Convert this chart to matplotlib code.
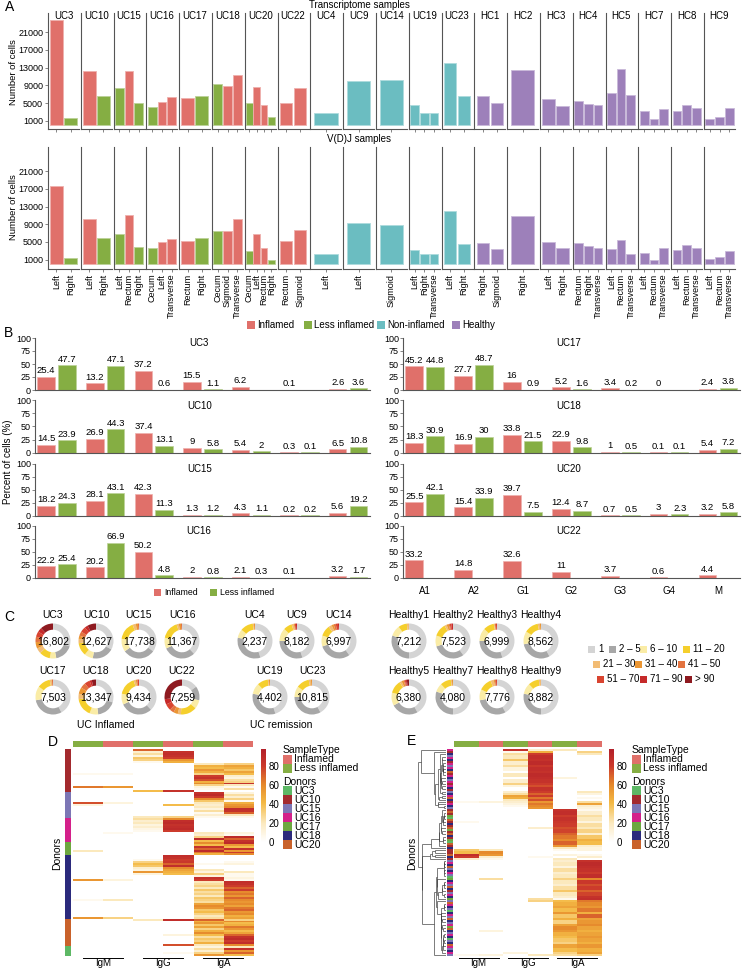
import numpy as np
import matplotlib
matplotlib.use('Agg')
import matplotlib.pyplot as plt
from matplotlib.colors import LinearSegmentedColormap, to_rgb
from matplotlib.patches import Rectangle
from matplotlib.collections import LineCollection

plt.rcParams['font.family'] = ['Liberation Sans', 'DejaVu Sans']

nan = np.nan

# ---------------- data: panel A ----------------
a_samples = ['UC3', 'UC10', 'UC15', 'UC16', 'UC17', 'UC18', 'UC20', 'UC22', 'UC4', 'UC9', 'UC14',
             'UC19', 'UC23', 'HC1', 'HC2', 'HC3', 'HC4', 'HC5', 'HC7', 'HC8', 'HC9']
a_sites = [['Left', 'Right'], ['Left', 'Right'], ['Left', 'Rectum', 'Right'],
           ['Cecum', 'Left', 'Transverse'], ['Rectum', 'Right'], ['Cecum', 'Sigmoid', 'Transverse'],
           ['Cecum', 'Left', 'Rectum', 'Right'], ['Rectum', 'Sigmoid'], ['Left'], ['Left'], ['Sigmoid'],
           ['Left', 'Right', 'Transverse'], ['Left', 'Right'], ['Right', 'Sigmoid'], ['Right'],
           ['Left', 'Right'], ['Rectum', 'Right', 'Transverse'], ['Left', 'Rectum', 'Transverse'],
           ['Left', 'Rectum', 'Transverse'], ['Left', 'Rectum', 'Transverse'], ['Left', 'Rectum', 'Transverse']]
# I = inflamed, L = less inflamed, N = non-inflamed, H = healthy
a_status = ['IL', 'IL', 'LIL', 'LII', 'IL', 'LII', 'LIIL', 'II', 'N', 'N', 'N', 'NNN', 'NN',
            'HH', 'H', 'HH', 'HHH', 'HHH', 'HHH', 'HHH', 'HHH']
a_rna = [[23800, 1650], [12200, 6650], [8450, 12250, 5000], [4100, 5200, 6300], [6050, 6600],
         [9300, 8850, 11300], [5000, 8550, 4600, 1900], [5000, 8300], [2650], [10050], [10100],
         [4550, 2650, 2800], [14100, 6500], [6500, 4900], [12500], [5900, 4400], [5500, 4700, 4500],
         [7200, 12700, 6800], [3250, 1300, 3700], [3250, 4550, 3850], [1380, 1750, 3950]]
a_vdj = [[17700, 1380], [10100, 5900], [6800, 11000, 3800], [3600, 5000, 5600], [5300, 5900],
         [7400, 7550, 10100], [3000, 6900, 3600, 1000], [5200, 7800], [2350], [9200], [8800],
         [3100, 2200, 2350], [11900, 4600], [4750, 3500], [10900], [5000, 3550], [4750, 4100, 3600],
         [3500, 5400, 2300], [2500, 850, 3700], [3200, 4300, 3550], [1200, 1600, 3000]]
a_yticks = [1000, 5000, 9000, 13000, 17000, 21000]

# ---------------- data: panel B ----------------
b_isotypes = ['A1', 'A2', 'G1', 'G2', 'G3', 'G4', 'M']
b_left = ['UC3', 'UC10', 'UC15', 'UC16']
b_right = ['UC17', 'UC18', 'UC20', 'UC22']
b_infl = {'UC3': [25.4, 13.2, 37.2, 15.5, 6.2, 0.1, 2.6],
          'UC10': [14.5, 26.9, 37.4, 9, 5.4, 0.3, 6.5],
          'UC15': [18.2, 28.1, 42.3, 1.3, 4.3, 0.2, 5.6],
          'UC16': [22.2, 20.2, 50.2, 2, 2.1, 0.1, 3.2],
          'UC17': [45.2, 27.7, 16, 5.2, 3.4, 0, 2.4],
          'UC18': [18.3, 16.9, 33.8, 22.9, 1, 0.1, 5.4],
          'UC20': [25.5, 15.4, 39.7, 12.4, 0.7, 3, 3.2],
          'UC22': [33.2, 14.8, 32.6, 11, 3.7, 0.6, 4.4]}
b_less = {'UC3': [47.7, 47.1, 0.6, 1.1, nan, nan, 3.6],
          'UC10': [23.9, 44.3, 13.1, 5.8, 2, 0.1, 10.8],
          'UC15': [24.3, 43.1, 11.3, 1.2, 1.1, 0.2, 19.2],
          'UC16': [25.4, 66.9, 4.8, 0.8, 0.3, nan, 1.7],
          'UC17': [44.8, 48.7, 0.9, 1.6, 0.2, nan, 3.8],
          'UC18': [30.9, 30, 21.5, 9.8, 0.5, 0.1, 7.2],
          'UC20': [42.1, 33.9, 7.5, 8.7, 0.5, 2.3, 5.8],
          'UC22': [nan, nan, nan, nan, nan, nan, nan]}

# ---------------- data: panel C ----------------
c_bins = ['1', '2 – 5', '6 – 10', '11 – 20', '21 – 30', '31 – 40', '41 – 50', '51 – 70', '71 – 90', '> 90']
c_names = ['UC3', 'UC10', 'UC15', 'UC16', 'UC17', 'UC18', 'UC20', 'UC22',
           'UC4', 'UC9', 'UC14', 'UC19', 'UC23',
           'Healthy1', 'Healthy2', 'Healthy3', 'Healthy4', 'Healthy5', 'Healthy7', 'Healthy8', 'Healthy9']
c_totals = [16802, 12627, 17738, 11367, 7503, 13347, 9434, 7259,
            2237, 8182, 6997, 4402, 10815,
            7212, 7523, 6999, 8562, 6380, 4080, 7776, 3882]
c_fracs = [[0.30, 0.17, 0.06, 0.10, 0.05, 0.06, 0.05, 0.05, 0.04, 0.12],
           [0.33, 0.20, 0.08, 0.12, 0.04, 0.03, 0.04, 0.05, 0.03, 0.08],
           [0.35, 0.30, 0.12, 0.17, 0.03, 0.02, 0.01, 0, 0, 0],
           [0.38, 0.30, 0.10, 0.17, 0.02, 0.02, 0.01, 0, 0, 0],
           [0.42, 0.30, 0.13, 0.12, 0.02, 0, 0.01, 0, 0, 0],
           [0.30, 0.18, 0.08, 0.17, 0.05, 0.06, 0.05, 0.05, 0.02, 0.04],
           [0.38, 0.30, 0.10, 0.17, 0.02, 0.015, 0, 0.015, 0, 0],
           [0.15, 0.13, 0.08, 0.15, 0.03, 0.04, 0.04, 0.06, 0.05, 0.27],
           [0.45, 0.33, 0.08, 0.12, 0.01, 0.01, 0, 0, 0, 0],
           [0.45, 0.30, 0.12, 0.08, 0.02, 0.01, 0, 0.01, 0.01, 0],
           [0.40, 0.30, 0.10, 0.10, 0.03, 0.02, 0.02, 0.02, 0.01, 0],
           [0.45, 0.33, 0.10, 0.10, 0.01, 0.01, 0, 0, 0, 0],
           [0.42, 0.33, 0.10, 0.12, 0.02, 0.01, 0, 0, 0, 0],
           [0.50, 0.30, 0.10, 0.08, 0.02, 0, 0, 0, 0, 0],
           [0.40, 0.30, 0.10, 0.12, 0.02, 0.02, 0.01, 0.015, 0.015, 0],
           [0.45, 0.30, 0.12, 0.10, 0.01, 0, 0.01, 0.01, 0, 0],
           [0.42, 0.30, 0.12, 0.13, 0.02, 0.01, 0, 0, 0, 0],
           [0.42, 0.25, 0.12, 0.12, 0.02, 0.02, 0.01, 0.01, 0.01, 0.02],
           [0.50, 0.30, 0.08, 0.10, 0.01, 0.01, 0, 0, 0, 0],
           [0.42, 0.30, 0.10, 0.12, 0.03, 0.01, 0.01, 0.01, 0, 0],
           [0.50, 0.28, 0.10, 0.10, 0.02, 0, 0, 0, 0, 0]]

# ---------------- data: panels D / E ----------------
hm_columns = ['IgM', 'IgM', 'IgG', 'IgG', 'IgA', 'IgA']
hm_sample = ['L', 'I', 'L', 'I', 'L', 'I']
donor_names = ['UC3', 'UC10', 'UC15', 'UC16', 'UC17', 'UC18', 'UC20']
d_donor_order = ['UC10', 'UC15', 'UC16', 'UC17', 'UC18', 'UC20', 'UC3']
d_donor_counts = [22, 13, 12, 7, 32, 14, 5]
# columns: IgM less, IgM infl, IgG less, IgG infl, IgA less, IgA infl (% of clone)
d_values = [
    [0, 0, 70, 0, 0, 0], [0, 0, 15, 85, 0, 0], [0, 0, 25, 88, 0, 0], [0, 0, 10, 85, 0, 0],
    [0, 0, 35, 80, 0, 0], [0, 0, 30, 55, 0, 0], [0, 0, 5, 45, 0, 0], [0, 0, 0, 0, 20, 30],
    [0, 0, 0, 0, 45, 50], [0, 0, 0, 0, 40, 45], [0, 0, 0, 0, 55, 35], [0, 0, 0, 0, 45, 50],
    [5, 5, 0, 0, 30, 40], [0, 0, 0, 0, 80, 15], [0, 0, 0, 0, 85, 10], [0, 0, 0, 0, 75, 25],
    [0, 0, 0, 0, 45, 30], [0, 0, 0, 0, 60, 85], [0, 0, 0, 0, 30, 20], [65, 55, 0, 0, 10, 5],
    [0, 0, 0, 0, 5, 25], [0, 0, 40, 85, 0, 0],
    [0, 0, 0, 0, 85, 10], [0, 0, 0, 0, 90, 25], [0, 0, 0, 0, 80, 15], [0, 0, 0, 0, 60, 30],
    [0, 0, 0, 0, 35, 5], [75, 10, 0, 0, 20, 45], [10, 0, 0, 40, 15, 55], [0, 0, 0, 0, 20, 60],
    [0, 0, 0, 0, 10, 88], [0, 0, 0, 0, 25, 85], [0, 0, 0, 0, 5, 70], [0, 0, 0, 0, 15, 20],
    [0, 0, 20, 30, 5, 5],
    [0, 0, 25, 60, 0, 0], [0, 0, 15, 88, 0, 0], [0, 0, 20, 90, 0, 0], [0, 0, 10, 85, 0, 0],
    [0, 0, 15, 88, 0, 0], [0, 0, 8, 90, 0, 0], [0, 0, 5, 80, 0, 0], [0, 5, 0, 0, 20, 10],
    [0, 0, 0, 0, 15, 5], [0, 0, 0, 0, 30, 90], [0, 0, 0, 0, 90, 70], [0, 0, 0, 0, 40, 85],
    [0, 0, 0, 0, 60, 90], [0, 0, 0, 0, 40, 55], [0, 0, 0, 0, 85, 40], [0, 0, 0, 0, 70, 85],
    [20, 0, 0, 0, 90, 55], [0, 0, 0, 0, 65, 80], [0, 0, 0, 0, 45, 60],
    [0, 0, 0, 88, 0, 0], [0, 0, 0, 85, 0, 0], [0, 0, 5, 80, 0, 0], [0, 0, 30, 82, 0, 5],
    [0, 0, 40, 70, 5, 10], [0, 0, 35, 88, 0, 0], [0, 0, 15, 60, 0, 0], [0, 0, 10, 50, 20, 0],
    [0, 0, 55, 45, 10, 20], [0, 0, 10, 40, 30, 5], [0, 0, 0, 0, 10, 5], [0, 0, 0, 0, 85, 10],
    [55, 10, 0, 0, 80, 5], [0, 0, 0, 0, 20, 88], [0, 0, 0, 0, 25, 85], [0, 0, 0, 0, 30, 80],
    [0, 0, 0, 0, 20, 70], [0, 0, 0, 0, 35, 80], [0, 0, 0, 0, 25, 60], [0, 0, 0, 0, 30, 65],
    [0, 0, 0, 0, 20, 55], [0, 0, 0, 0, 35, 70], [5, 20, 0, 0, 30, 60], [0, 0, 0, 0, 25, 55],
    [0, 0, 0, 0, 50, 60], [0, 0, 0, 0, 60, 50], [0, 0, 0, 0, 55, 65], [0, 0, 0, 0, 35, 70],
    [0, 0, 0, 0, 40, 55], [0, 0, 0, 0, 30, 60], [0, 0, 0, 0, 20, 45], [55, 30, 0, 0, 25, 50],
    [0, 0, 20, 88, 70, 30], [0, 0, 0, 0, 45, 60], [0, 0, 0, 0, 55, 40], [0, 0, 0, 0, 35, 45],
    [0, 0, 0, 0, 50, 65], [0, 0, 0, 0, 30, 55], [0, 0, 0, 0, 45, 40], [0, 0, 0, 0, 60, 50],
    [0, 0, 0, 10, 40, 70], [0, 0, 0, 0, 25, 85], [0, 0, 0, 0, 35, 90], [0, 0, 0, 0, 30, 80],
    [0, 0, 0, 0, 45, 88], [0, 0, 0, 75, 20, 60],
    [0, 0, 0, 0, 10, 20], [0, 0, 0, 0, 25, 85], [0, 0, 0, 0, 15, 55], [0, 0, 0, 5, 30, 70],
    [0, 0, 0, 0, 55, 40]]

# E: clustered rows, (repeat, values)
e_blocks = [
    (1, [0, 0, 85, 15, 20, 0]), (1, [0, 0, 5, 45, 0, 30]), (1, [0, 0, 25, 80, 0, 20]),
    (2, [0, 0, 20, 88, 0, 0]), (1, [0, 0, 35, 85, 0, 0]), (2, [0, 0, 15, 90, 0, 0]),
    (1, [0, 0, 25, 82, 0, 0]), (2, [0, 0, 10, 88, 0, 0]), (1, [0, 0, 0, 85, 0, 0]),
    (2, [0, 0, 20, 90, 0, 0]), (1, [0, 0, 0, 88, 10, 0]), (2, [0, 0, 15, 85, 0, 0]),
    (1, [0, 0, 30, 80, 0, 0]), (1, [0, 0, 10, 75, 0, 0]), (2, [0, 0, 0, 85, 0, 0]),
    (1, [0, 0, 15, 80, 0, 20]), (1, [0, 0, 25, 70, 0, 10]), (1, [0, 0, 50, 80, 0, 0]),
    (1, [0, 0, 45, 65, 0, 5]), (1, [0, 0, 20, 75, 0, 0]), (1, [5, 10, 15, 55, 0, 25]),
    (1, [0, 0, 10, 65, 0, 50]), (1, [0, 0, 5, 60, 0, 15]), (1, [0, 0, 0, 55, 0, 10]),
    (1, [0, 0, 0, 0, 85, 5]), (2, [0, 0, 0, 0, 88, 15]), (1, [0, 0, 0, 0, 80, 25]),
    (2, [0, 0, 0, 0, 85, 20]), (1, [5, 0, 0, 0, 82, 10]), (2, [0, 0, 0, 0, 80, 25]),
    (1, [0, 0, 0, 15, 75, 20]), (2, [0, 0, 0, 0, 78, 30]), (1, [0, 0, 0, 0, 70, 15]),
    (2, [0, 0, 0, 0, 65, 35]), (1, [0, 0, 0, 0, 60, 45]), (2, [0, 0, 0, 0, 70, 40]),
    (1, [0, 0, 0, 0, 55, 15]), (1, [0, 0, 0, 0, 20, 10]),
    (1, [35, 20, 0, 0, 5, 10]), (1, [40, 60, 0, 0, 0, 0]), (1, [88, 55, 0, 0, 10, 5]),
    (1, [80, 15, 0, 5, 0, 15]), (1, [15, 5, 0, 0, 20, 0]),
    (1, [0, 0, 0, 0, 15, 85]), (2, [0, 0, 0, 0, 20, 90]), (1, [0, 0, 0, 0, 10, 88]),
    (2, [0, 0, 0, 0, 25, 85]), (1, [0, 0, 0, 0, 15, 80]), (2, [0, 0, 0, 0, 20, 88]),
    (1, [0, 25, 0, 0, 30, 60]), (2, [0, 0, 0, 0, 20, 82]), (1, [0, 0, 0, 0, 15, 75]),
    (2, [0, 0, 0, 0, 25, 80]), (1, [0, 0, 0, 0, 35, 70]), (2, [0, 0, 0, 0, 20, 78]),
    (1, [0, 0, 0, 0, 15, 85]), (1, [0, 0, 0, 25, 5, 88]), (1, [0, 0, 0, 30, 40, 65]),
    (2, [0, 0, 0, 0, 45, 60]), (1, [0, 0, 0, 0, 50, 55]), (2, [0, 0, 0, 0, 40, 65]),
    (1, [0, 0, 0, 0, 55, 45]), (2, [0, 0, 0, 0, 35, 70]), (1, [0, 0, 0, 0, 45, 50]),
    (2, [0, 0, 0, 0, 30, 55]), (1, [0, 0, 0, 0, 50, 60]), (2, [0, 0, 0, 0, 60, 50]),
    (1, [0, 10, 0, 0, 55, 45]), (2, [0, 0, 0, 0, 45, 50]), (1, [0, 0, 0, 0, 40, 55]),
    (2, [0, 0, 0, 0, 35, 50]), (1, [0, 0, 0, 0, 30, 45]), (2, [0, 0, 0, 0, 50, 55]),
    (2, [0, 0, 0, 0, 40, 45]), (1, [0, 0, 10, 0, 30, 50]), (1, [5, 10, 0, 20, 25, 30])]
# donor of each E row: a=UC3 b=UC10 c=UC15 d=UC16 e=UC17 f=UC18 g=UC20
e_donor_codes = ('dbfcdfbdcdfgbdfcdbdfbcfdgfbdfc' 'bgbeagbfbgebgfbeagbf' 'bbgfb'
                 'cdfgcfdcaefdcgfbcdfecgdfcafdcgfcdegfcdfacfgdcfdc')

# ---------------- styling ----------------
status_col = {'I': '#E0706A', 'L': '#85AE43', 'N': '#6BBDC1', 'H': '#9D80BA'}
status_lab = {'I': 'Inflamed', 'L': 'Less inflamed', 'N': 'Non-inflamed', 'H': 'Healthy'}
c_colors = ['#D4D4D4', '#A7A7A7', '#FAECA6', '#F5CF2C', '#F2BC74', '#EB9633',
            '#E3733F', '#D94430', '#C62A2A', '#8E1A20']
donor_col = {'UC3': '#5DB865', 'UC10': '#A32A2E', 'UC15': '#7C76B5', 'UC16': '#D4208A',
             'UC17': '#6DA83F', 'UC18': '#2B2A7C', 'UC20': '#C9622B'}
code_donor = dict(zip('abcdefg', donor_names))
heat_cmap = LinearSegmentedColormap.from_list(
    'heat', [(0, '#FFFFFF'), (0.2, '#FCEAC0'), (0.42, '#F4BA45'), (0.62, '#E6892C'),
             (0.82, '#CC3A2C'), (1, '#B3202A')])
HMAX = 98
AXC = '#555555'

W, H = 742, 968
fig = plt.figure(figsize=(W / 100, H / 100), dpi=100)


def px_axes(x0, y0, x1, y1):
    return fig.add_axes([x0 / W, 1 - y1 / H, (x1 - x0) / W, (y1 - y0) / H])


def ftext(x, y, s, **kw):
    kw.setdefault('va', 'center')
    fig.text(x / W, 1 - y / H, s, **kw)


def fsquare(x, y, color, s=8):
    fig.patches.append(Rectangle((x / W, 1 - (y + s / 2) / H), s / W, s / H,
                                 transform=fig.transFigure, facecolor=color, edgecolor='none'))


def lighten(c, f=0.45):
    r = np.array(to_rgb(c))
    return tuple(r + (1 - r) * f)


# ================= panel A =================
ftext(5, 7, 'A', fontsize=10)
ftext(359, 5, 'Transcriptome samples', fontsize=7, ha='center')
ftext(359, 139, 'V(D)J samples', fontsize=7, ha='center')
ftext(14, 72, 'Number of cells', fontsize=6.8, rotation=90, ha='center')
ftext(14, 207, 'Number of cells', fontsize=6.8, rotation=90, ha='center')

pitch = 32.8
rows_a = [(a_rna, 12.7, 129, (-880, 25430), False), (a_vdj, 147, 269, (-1100, 26430), True)]
for i, name in enumerate(a_samples):
    x0 = 48 + i * pitch
    cols = [status_col[s] for s in a_status[i]]
    xs = np.arange(len(a_sites[i]))
    for data, ytop, ybot, ylim, labels in rows_a:
        ax = px_axes(x0, ytop, x0 + 31, ybot)
        ax.bar(xs, data[i], width=0.9, color=cols, edgecolor=[lighten(c) for c in cols], linewidth=0.6)
        ax.set_xlim(-0.6, len(xs) - 0.4)
        ax.set_ylim(*ylim)
        for sp in ['top', 'right']:
            ax.spines[sp].set_visible(False)
        for sp in ['left', 'bottom']:
            ax.spines[sp].set_color(AXC)
            ax.spines[sp].set_linewidth(0.8)
        ax.set_xticks(xs)
        ax.tick_params(axis='x', length=2, width=0.5, color=AXC, pad=1.5)
        if labels:
            ax.set_xticklabels(a_sites[i], rotation=90, fontsize=6.5, va='top', ha='center')
        else:
            ax.set_xticklabels([])
            ax.text(0.5, 0.972, name, transform=ax.transAxes, ha='center', va='center', fontsize=7)
        if i == 0:
            ax.set_yticks(a_yticks)
            ax.set_yticklabels([str(v) for v in a_yticks], fontsize=6.5)
            ax.tick_params(axis='y', length=2, width=0.5, color=AXC, pad=1.5)
        else:
            ax.set_yticks([])

for s, x in zip('ILNH', [247, 304, 377, 452]):
    fsquare(x, 325, status_col[s], 8)
    ftext(x + 10, 325, status_lab[s], fontsize=7)

# ================= panel B =================
ftext(4, 333, 'B', fontsize=10)
ftext(8, 462, 'Percent of cells (%)', fontsize=7, rotation=90, ha='center')
b_tops = [338, 400.5, 463.5, 525.7]
bx = np.arange(len(b_isotypes))
for col_names, xa, xb in [(b_left, 35, 370), (b_right, 403, 740)]:
    for r, name in enumerate(col_names):
        ax = px_axes(xa, b_tops[r], xb, b_tops[r] + 52)
        for vals, off, s in [(b_infl[name], -0.215, 'I'), (b_less[name], 0.215, 'L')]:
            v = np.array(vals, dtype=float)
            ok = ~np.isnan(v)
            ax.bar(bx[ok] + off, v[ok], width=0.36, color=status_col[s],
                   edgecolor=lighten(status_col[s]), linewidth=0.5)
            for xi, yi in zip(bx[ok] + off, v[ok]):
                ax.text(xi, yi + 3, '{:g}'.format(yi), ha='center', va='bottom', fontsize=6.8)
        ax.set_xlim(-0.445, 6.45)
        ax.set_ylim(0, 100)
        ax.text(0.49, 0.9, name, transform=ax.transAxes, ha='center', va='center', fontsize=7)
        for sp in ['top', 'right']:
            ax.spines[sp].set_visible(False)
        for sp in ['left', 'bottom']:
            ax.spines[sp].set_color(AXC)
            ax.spines[sp].set_linewidth(0.8)
        ax.set_yticks([0, 25, 50, 75, 100])
        ax.set_yticklabels(['0', '25', '50', '75', '100'], fontsize=6.5)
        ax.tick_params(axis='y', length=2, width=0.5, color=AXC, pad=1)
        ax.set_xticks(bx)
        if r == 3 and xa > 300:
            ax.set_xticklabels(b_isotypes, fontsize=7)
            ax.tick_params(axis='x', length=0, pad=6)
        else:
            ax.set_xticklabels([])
            ax.tick_params(axis='x', length=0)

for s, x in zip('IL', [154, 210]):
    fsquare(x, 592.7, status_col[s], 7)
    ftext(x + 10, 592.7, status_lab[s], fontsize=6.3)

# ================= panel C =================
ftext(4, 617, 'C', fontsize=10)
c_centers = ([(53 + 43 * k, 641) for k in range(4)] + [(53 + 43 * k, 697) for k in range(4)] +
             [(255 + 42 * k, 641) for k in range(3)] + [(270 + 42 * k, 697) for k in range(2)] +
             [(409 + 44 * k, 641) for k in range(4)] + [(409 + 44 * k, 697) for k in range(4)])
for k, name in enumerate(c_names):
    cx, cy = c_centers[k]
    ax = px_axes(cx - 20, cy - 20, cx + 20, cy + 20)
    fr = np.array(c_fracs[k])
    keep = fr > 0
    ax.pie(fr[keep], colors=[c for c, kp in zip(c_colors, keep) if kp], radius=0.875,
           startangle=90, counterclock=False, wedgeprops=dict(width=0.31, edgecolor='none'))
    ax.set_xlim(-1, 1)
    ax.set_ylim(-1, 1)
    ax.set_aspect('equal')
    ax.text(0, 0, '{:,}'.format(c_totals[k]), ha='center', va='center', fontsize=7.5)
    ftext(cx, cy - 26, name, fontsize=7.5, ha='center')
ftext(106, 725, 'UC Inflamed', fontsize=7.5, ha='center')
ftext(281, 725, 'UC remission', fontsize=7.5, ha='center')

leg_rows = [(649, [588, 609, 640, 683]), (664, [593, 635, 678]), (679, [597, 640, 685])]
bi = 0
for y, xs_l in leg_rows:
    for x in xs_l:
        fsquare(x, y, c_colors[bi], 7)
        ftext(x + 10, y, c_bins[bi], fontsize=7)
        bi += 1


# ================= panels D and E =================
def ordered_linkage(vals):
    n = len(vals)
    dist = np.sqrt(((vals[:, None, :] - vals[None, :, :]) ** 2).sum(-1))
    clusters = [([i], float(i), 0.0) for i in range(n)]
    segs = []
    while len(clusters) > 1:
        best = None
        for j in range(len(clusters) - 1):
            d = dist[np.ix_(clusters[j][0], clusters[j + 1][0])].mean()
            if best is None or d < best[0]:
                best = (d, j)
        d, j = best
        (ma, pa, ha), (mb, pb, hb) = clusters[j], clusters[j + 1]
        h = max(d, ha, hb)
        segs += [[(ha, pa), (h, pa)], [(hb, pb), (h, pb)], [(h, pa), (h, pb)]]
        clusters[j:j + 2] = [(ma + mb, (pa + pb) / 2, h)]
    return segs, h


def draw_heatmap(vals, donors, hx0, hx1, strip_x, cbar_x, leg_x, dendro_x=None):
    y0, y1 = 749, 956
    n = len(vals)
    ax = px_axes(hx0, y0, hx1, y1)
    ax.imshow(vals, cmap=heat_cmap, vmin=0, vmax=HMAX, aspect='auto', interpolation='nearest')
    ax.axis('off')
    # top annotation
    ta = px_axes(hx0, 740.7, hx1, 746.7)
    for j, s in enumerate(hm_sample):
        ta.add_patch(Rectangle((j - 0.5, 0), 1, 1, color=status_col[s], lw=0))
    ta.set_xlim(-0.5, 5.5)
    ta.set_ylim(0, 1)
    ta.axis('off')
    # donor strip
    sa = px_axes(strip_x, y0, strip_x + 6, y1)
    sa.imshow(np.array([[to_rgb(donor_col[d])] for d in donors]), aspect='auto', interpolation='nearest')
    sa.axis('off')
    # group labels
    cw = (hx1 - hx0) / 6
    for g, lab in enumerate(['IgM', 'IgG', 'IgA']):
        cx = hx0 + (2 * g + 1) * cw
        fig.add_artist(plt.Line2D([(cx - 20) / W, (cx + 20) / W], [1 - 958 / H, 1 - 958 / H],
                                  color='black', lw=0.7))
        ftext(cx, 963.5, lab, fontsize=7, ha='center')
    # colorbar
    ca = px_axes(cbar_x, y0, cbar_x + 5, 841.7)
    ca.imshow(np.linspace(HMAX, 0, 200)[:, None], cmap=heat_cmap, vmin=0, vmax=HMAX,
              aspect='auto', extent=[0, 1, 0, HMAX])
    ca.set_xticks([])
    ca.yaxis.tick_right()
    ca.set_yticks([0, 20, 40, 60, 80])
    ca.set_yticklabels(['0', '20', '40', '60', '80'], fontsize=7)
    ca.tick_params(axis='y', length=0, pad=2)
    for sp in ca.spines.values():
        sp.set_visible(False)
    # legend
    ftext(leg_x, 750, 'SampleType', fontsize=7.5)
    fsquare(leg_x, 759, status_col['I'], 9)
    ftext(leg_x + 11, 759, 'Inflamed', fontsize=7.5)
    fsquare(leg_x, 768, status_col['L'], 9)
    ftext(leg_x + 11, 768, 'Less inflamed', fontsize=7.5)
    ftext(leg_x, 781.7, 'Donors', fontsize=7.5)
    for k, dn in enumerate(donor_names):
        fsquare(leg_x, 790.7 + 9 * k, donor_col[dn], 9)
        ftext(leg_x + 11, 790.7 + 9 * k, dn, fontsize=7.5)
    # dendrogram
    if dendro_x is not None:
        segs, top = ordered_linkage(np.array(vals, dtype=float))
        da = px_axes(dendro_x[0], y0, dendro_x[1], y1)
        da.add_collection(LineCollection(segs, colors='#333333', linewidths=0.45))
        da.set_xlim(top * 1.01, 0)
        da.set_ylim(n - 0.5, -0.5)
        da.axis('off')


d_donors = [d for d, c in zip(d_donor_order, d_donor_counts) for _ in range(c)]
ftext(53, 742, 'D', fontsize=10, ha='center')
ftext(57, 853, 'Donors', fontsize=7.5, rotation=90, ha='center')
draw_heatmap(np.array(d_values, dtype=float), d_donors, 72.7, 253, 65, 261, 283)

e_values = np.array([v for c, v in e_blocks for _ in range(c)], dtype=float)
e_donors = [code_donor[ch] for ch in e_donor_codes]
ftext(412, 741, 'E', fontsize=10, ha='center')
ftext(412, 853, 'Donors', fontsize=7.5, rotation=90, ha='center')
draw_heatmap(e_values, e_donors, 454, 601.7, 446.7, 609, 632, dendro_x=(418, 446))

fig.savefig('out.png', dpi=100)
